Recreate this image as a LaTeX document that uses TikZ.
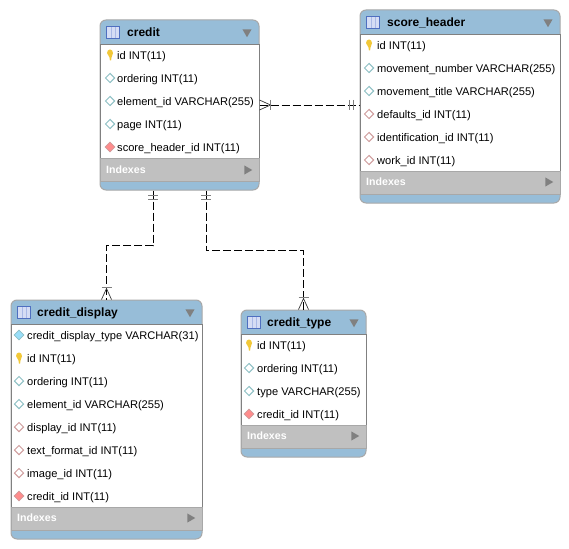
\documentclass[tikz,border=0pt]{standalone}
\usepackage{fontspec}
\setmainfont{Liberation Sans}
\usepackage{xcolor}
\usetikzlibrary{positioning, shapes.geometric, calc}

\definecolor{headblue}{HTML}{97BDD8}
\definecolor{bandgray}{HTML}{C0C0C0}
\definecolor{edgegray}{HTML}{A8A8A8}
\definecolor{tealline}{HTML}{8DBFC4}
\definecolor{pinkline}{HTML}{CF9C9C}
\definecolor{keyyellow}{HTML}{F2C838}
\definecolor{iconblue}{HTML}{4F6FC0}
\definecolor{iconfill}{HTML}{D5DDF5}
\definecolor{iconcol}{HTML}{A9B9E6}

\begin{document}
\begin{tikzpicture}[
    x=1pt, y=-1pt,
    tablebox/.style={rectangle, draw=edgegray, line width=1pt, fill=headblue, rounded corners=6pt, inner sep=0pt},
    rowsbox/.style={rectangle, draw=gray, line width=0.8pt, fill=white, inner sep=0pt, anchor=north},
    bandbox/.style={rectangle, draw=edgegray, line width=0.8pt, fill=bandgray, inner sep=0pt, anchor=north},
    tabletitle/.style={anchor=west, inner sep=0pt, font=\fontsize{12}{14}\selectfont\bfseries, text height=9pt, text depth=1.5pt},
    rowtext/.style={anchor=west, inner sep=0pt, font=\fontsize{11.1}{13}\selectfont, text height=8pt, text depth=1.2pt},
    bandtext/.style={anchor=west, inner sep=0pt, text=white, font=\fontsize{10.6}{12}\selectfont\bfseries, text height=8pt, text depth=2.5pt},
    tableicon/.style={rectangle, draw=iconblue, line width=0.9pt, fill=iconfill, minimum width=13pt, minimum height=12pt, inner sep=0pt,
        path picture={
            \draw[iconcol, line width=0.8pt] ([xshift=-2pt]path picture bounding box.north) -- ([xshift=-2pt]path picture bounding box.south);
            \draw[iconcol, line width=0.8pt] ([xshift=2pt]path picture bounding box.north) -- ([xshift=2pt]path picture bounding box.south);
        }},
    downmark/.style={regular polygon, regular polygon sides=3, shape border rotate=180, fill=gray, minimum size=10.5pt, inner sep=0pt},
    rightmark/.style={regular polygon, regular polygon sides=3, shape border rotate=-90, fill=gray, minimum size=10.5pt, inner sep=0pt},
    keyicon/.style={rectangle, minimum width=7pt, minimum height=12pt, inner sep=0pt,
        path picture={
            \fill[keyyellow] (path picture bounding box.center) ++(-3,-2) arc[start angle=180, end angle=360, x radius=3pt, y radius=-3.5pt]
                -- ++(-1.5,4.5) -- ++(-0.4,3) -- ++(-1.2,0) -- ++(-0.4,-3) -- cycle;
        }},
    plainicon/.style={diamond, draw=tealline, fill=white, line width=1pt, minimum size=9.5pt, inner sep=0pt},
    fkicon/.style={diamond, draw=pinkline, fill=white, line width=1pt, minimum size=9.5pt, inner sep=0pt},
    fkfillicon/.style={diamond, draw=pinkline, fill=red!45, line width=0.8pt, minimum size=10pt, inner sep=0pt},
    uniqicon/.style={diamond, draw=tealline, fill=cyan!40, line width=0.8pt, minimum size=10pt, inner sep=0pt},
    relline/.style={black, line width=0.8pt, dash pattern=on 8pt off 3pt},
    crowline/.style={black!80, line width=0.7pt},
    barline/.style={gray, line width=1.6pt},
]
\useasboundingbox (0,0) rectangle (569,548);

% credit
\node[tablebox, minimum width=159pt, minimum height=170pt] (credit) at (179.5,105) {};
\node[rowsbox, minimum width=159pt, minimum height=114pt] (credit-rows) at (179.5,44.5) {};
\node[bandbox, minimum width=159pt, minimum height=23pt] (credit-band) at (179.5,158) {};
\node[tableicon] (credit-icon) at (113,32) {};
\node[tabletitle] (credit-title) at (127,32.5) {credit};
\node[downmark] (credit-down) at (247,32) {};
\foreach \i/\kind/\txt in {0/keyicon/id INT(11), 1/plainicon/ordering INT(11), 2/plainicon/element\_id VARCHAR(255), 3/plainicon/page INT(11), 4/fkfillicon/score\_header\_id INT(11)} {
    \node[\kind] (credit-i\i) at (110,55+\i*23) {};
    \node[rowtext] (credit-t\i) at (117,56+\i*23) {\txt};
}
\node[bandtext] (credit-index) at (106,171) {Indexes};
\node[rightmark] (credit-right) at (247,170) {};

% score_header
\node[tablebox, minimum width=200pt, minimum height=193pt] (score_header) at (460,106.5) {};
\node[rowsbox, minimum width=200pt, minimum height=137pt] (score-rows) at (460,34) {};
\node[bandbox, minimum width=200pt, minimum height=23pt] (score-band) at (460,171) {};
\node[tableicon] (score-icon) at (373,22) {};
\node[tabletitle] (score-title) at (387,22.5) {score\_header};
\node[downmark] (score-down) at (548,22) {};
\foreach \i/\kind/\txt in {0/keyicon/id INT(11), 1/plainicon/movement\_number VARCHAR(255), 2/plainicon/movement\_title VARCHAR(255), 3/fkicon/defaults\_id INT(11), 4/fkicon/identification\_id INT(11), 5/fkicon/work\_id INT(11)} {
    \node[\kind] (score-i\i) at (369,45+\i*23) {};
    \node[rowtext] (score-t\i) at (377,46+\i*23) {\txt};
}
\node[bandtext] (score-index) at (366,183) {Indexes};
\node[rightmark] (score-right) at (548,182) {};

% credit_display
\node[tablebox, minimum width=191pt, minimum height=239pt] (credit_display) at (106.5,419.5) {};
\node[rowsbox, minimum width=191pt, minimum height=183pt] (display-rows) at (106.5,324) {};
\node[bandbox, minimum width=191pt, minimum height=23pt] (display-band) at (106.5,507) {};
\node[tableicon] (display-icon) at (24,312) {};
\node[tabletitle] (display-title) at (37,312.5) {credit\_display};
\node[downmark] (display-down) at (190,312) {};
\foreach \i/\kind/\txt in {0/uniqicon/credit\_display\_type VARCHAR(31), 1/keyicon/id INT(11), 2/plainicon/ordering INT(11), 3/plainicon/element\_id VARCHAR(255), 4/fkicon/display\_id INT(11), 5/fkicon/text\_format\_id INT(11), 6/fkicon/image\_id INT(11), 7/fkfillicon/credit\_id INT(11)} {
    \node[\kind] (display-i\i) at (19,335+\i*23) {};
    \node[rowtext] (display-t\i) at (27,336+\i*23) {\txt};
}
\node[bandtext] (display-index) at (17,519) {Indexes};
\node[rightmark] (display-right) at (190,518) {};

% credit_type
\node[tablebox, minimum width=125pt, minimum height=147pt] (credit_type) at (303.5,383.5) {};
\node[rowsbox, minimum width=125pt, minimum height=91pt] (type-rows) at (303.5,334) {};
\node[bandbox, minimum width=125pt, minimum height=23pt] (type-band) at (303.5,425) {};
\node[tableicon] (type-icon) at (254,322) {};
\node[tabletitle] (type-title) at (267,322.5) {credit\_type};
\node[downmark] (type-down) at (354,322) {};
\foreach \i/\kind/\txt in {0/keyicon/id INT(11), 1/plainicon/ordering INT(11), 2/plainicon/type VARCHAR(255), 3/fkfillicon/credit\_id INT(11)} {
    \node[\kind] (type-i\i) at (249,345+\i*23) {};
    \node[rowtext] (type-t\i) at (257,346+\i*23) {\txt};
}
\node[bandtext] (type-index) at (247,437) {Indexes};
\node[rightmark] (type-right) at (354,436) {};

% relations
\draw[relline] (credit.east) -- (credit.east -| score_header.west);
\draw[crowline] ([shift={(0,-5)}]credit.east) -- ([xshift=11pt]credit.east) -- ([shift={(0,5)}]credit.east);
\draw[barline] ([shift={(11,-5)}]credit.east) -- ([shift={(11,5)}]credit.east);
\draw[barline] ([shift={(-10,-5)}]credit.east -| score_header.west) -- ([shift={(-10,5)}]credit.east -| score_header.west);
\draw[barline] ([shift={(-6,-5)}]credit.east -| score_header.west) -- ([shift={(-6,5)}]credit.east -| score_header.west);

\draw[relline] ([xshift=-26.5pt]credit.south) -- ++(0,55) -| (credit_display.north);
\draw[barline] ([shift={(-31.5,5)}]credit.south) -- ([shift={(-21.5,5)}]credit.south);
\draw[barline] ([shift={(-31.5,9)}]credit.south) -- ([shift={(-21.5,9)}]credit.south);
\draw[crowline] ([xshift=-5pt]credit_display.north) -- ([yshift=11pt]credit_display.north) -- ([xshift=5pt]credit_display.north);
\draw[barline] ([shift={(-5,-12)}]credit_display.north) -- ([shift={(5,-12)}]credit_display.north);

\draw[relline] ([xshift=26.5pt]credit.south) -- ++(0,60) -| (credit_type.north);
\draw[barline] ([shift={(21.5,5)}]credit.south) -- ([shift={(31.5,5)}]credit.south);
\draw[barline] ([shift={(21.5,9)}]credit.south) -- ([shift={(31.5,9)}]credit.south);
\draw[crowline] ([xshift=-5pt]credit_type.north) -- ([yshift=11pt]credit_type.north) -- ([xshift=5pt]credit_type.north);
\draw[barline] ([shift={(-5,-12)}]credit_type.north) -- ([shift={(5,-12)}]credit_type.north);
\end{tikzpicture}
\end{document}
